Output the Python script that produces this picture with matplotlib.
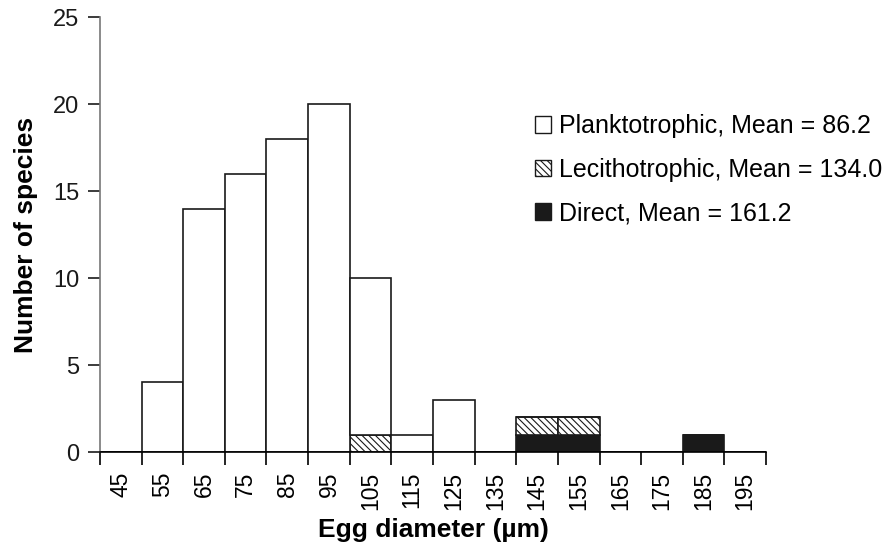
import numpy as np
import matplotlib
matplotlib.use("Agg")
import matplotlib.pyplot as plt
from matplotlib.patches import Patch

plt.rcParams['font.family'] = ['Liberation Sans', 'DejaVu Sans']
plt.rcParams['hatch.color'] = '#555555'
plt.rcParams['hatch.linewidth'] = 0.8

# egg diameter bins (um) and species counts
bins = [45, 55, 65, 75, 85, 95, 105, 115, 125, 135, 145, 155, 165, 175, 185, 195]
direct = [0, 0, 0, 0, 0, 0, 0, 0, 0, 0, 1, 1, 0, 0, 1, 0]
lecitho = [0, 0, 0, 0, 0, 0, 1, 0, 0, 0, 1, 1, 0, 0, 0, 0]
plankto = [0, 4, 14, 16, 18, 20, 9, 1, 3, 0, 0, 0, 0, 0, 0, 0]

labels = ["Planktotrophic, Mean = 86.2",
          "Lecithotrophic, Mean = 134.0",
          "Direct, Mean = 161.2"]

fig = plt.figure(figsize=(8.87, 5.56), dpi=100)
ax = fig.add_axes([0.1127, 0.187, 0.7509, 0.782])

x = np.arange(len(bins))
d = np.array(direct)
l = np.array(lecitho)
p = np.array(plankto)

ax.bar(x, d, width=1.0, color='#1a1a1a', edgecolor='#1a1a1a', linewidth=1.2)
ax.bar(x, l, width=1.0, bottom=d, color='white', edgecolor='#1a1a1a',
       hatch='\\\\\\\\\\', linewidth=1.2)
ax.bar(x, p, width=1.0, bottom=d + l, color='white', edgecolor='#1a1a1a',
       linewidth=1.2)

ax.set_xlim(-0.5, len(bins) - 0.5)
ax.set_ylim(0, 25)
ax.set_yticks(range(0, 26, 5))

# tick marks at bin edges, labels at bin centres
ax.set_xticks(np.arange(-0.5, len(bins), 1.0))
ax.set_xticklabels([])
ax.set_xticks(x, minor=True)
ax.set_xticklabels([str(b) for b in bins], minor=True, rotation=90, fontsize=16.5)
ax.tick_params(axis='x', which='minor', length=0, pad=14)
ax.tick_params(axis='x', which='major', length=9, width=1.2, direction='out')
ax.tick_params(axis='y', length=9, width=1.2, labelsize=17, colors='#1a1a1a', pad=6)

for s in ['top', 'right']:
    ax.spines[s].set_visible(False)
ax.spines['left'].set_color('#777777')
ax.spines['left'].set_linewidth(1.2)
ax.spines['bottom'].set_linewidth(1.2)

ax.set_ylabel("Number of species", fontsize=19, fontweight='bold', labelpad=11)
ax.set_xlabel("Egg diameter (\u00b5m)", fontsize=19, fontweight='bold', labelpad=6)

handles = [Patch(facecolor='white', edgecolor='#1a1a1a'),
           Patch(facecolor='white', edgecolor='#1a1a1a', hatch='\\\\\\\\\\'),
           Patch(facecolor='#1a1a1a', edgecolor='#1a1a1a')]
ax.legend(handles, labels, loc='upper left', bbox_to_anchor=(0.653, 0.777),
          frameon=False, fontsize=18, handlelength=0.65, handleheight=0.65,
          handletextpad=0.3, labelspacing=0.78, borderaxespad=0, borderpad=0)

fig.savefig("out.png", dpi=100)
